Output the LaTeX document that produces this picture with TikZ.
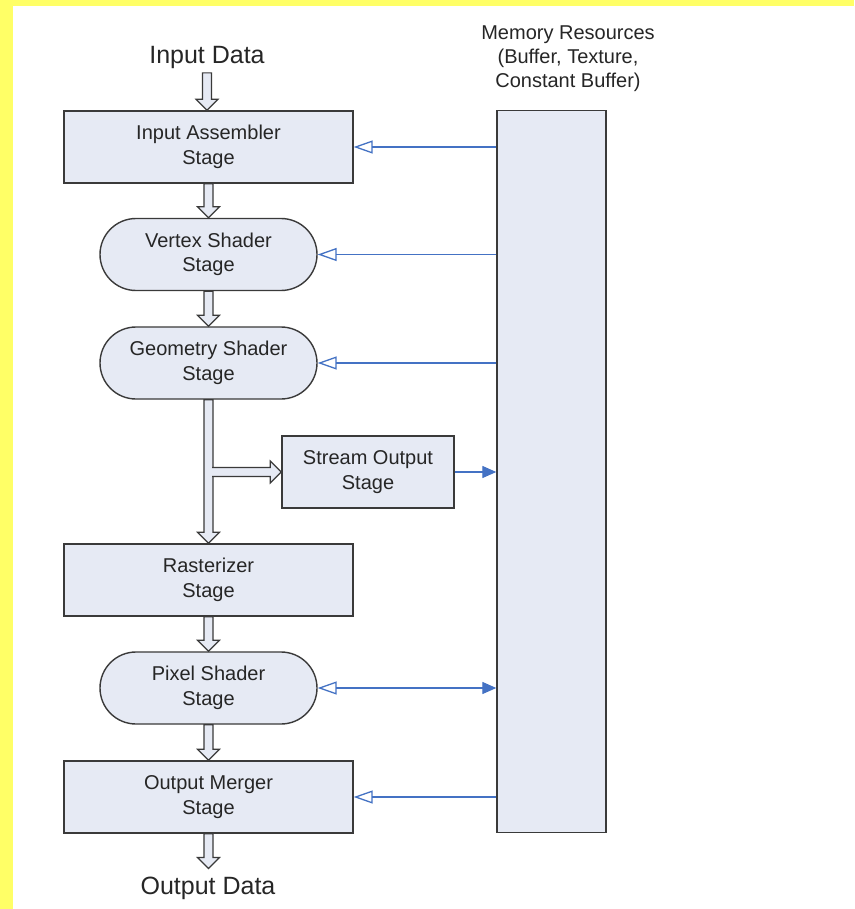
\documentclass[tikz,border=0pt]{standalone}
\usepackage{fontspec}
\setmainfont{Liberation Sans}
\usetikzlibrary{arrows.meta,calc}
\definecolor{stagefill}{HTML}{E6EAF4}
\definecolor{edgegray}{HTML}{3A3A3A}
\definecolor{linkblue}{HTML}{4472C4}
\definecolor{framey}{HTML}{FFFF66}
\definecolor{inkgray}{HTML}{262626}
\begin{document}
\begin{tikzpicture}[x=1pt,y=-1pt,
  stage/.style={draw=edgegray,fill=stagefill,line width=1.4pt,
    minimum width=289pt,minimum height=72pt,inner sep=0pt,align=center,
    font=\fontsize{20}{24.5}\selectfont,text=inkgray},
  shader/.style={stage,minimum width=217pt,rounded corners=36pt},
  label/.style={text=inkgray,align=center,inner xsep=0pt},
  fat/.style={draw=edgegray,fill=stagefill,line width=1.2pt,
    to path={let \p1=(\tikztostart),\p2=(\tikztotarget) in
      (\x1-4.5pt,\y1) -- (\x1-4.5pt,\y2+11pt) -- (\x1-11pt,\y2+11pt) -- (\x1,\y2)
      -- (\x1+11pt,\y2+11pt) -- (\x1+4.5pt,\y2+11pt) -- (\x1+4.5pt,\y1) -- cycle}},
  branch/.style={draw=edgegray,fill=stagefill,line width=1.2pt,
    to path={let \p1=(\tikztostart),\p2=(\tikztotarget) in
      (\x1+3.5pt,\y1+4.5pt) -- (\x2-11pt,\y1+4.5pt) -- (\x2-11pt,\y1+11pt) -- (\x2,\y1)
      -- (\x2-11pt,\y1-11pt) -- (\x2-11pt,\y1-4.5pt) -- (\x1+3.5pt,\y1-4.5pt)}},
  link/.style={draw=linkblue,line width=1.3pt},
  readtip/.style={-{Triangle[open,length=19pt,width=13pt,line width=1.3pt]}},
  writetip/.style={-{Triangle[length=14pt,width=12pt]}},
  bothtip/.style={{Triangle[open,length=19pt,width=13pt,line width=1.3pt]}-{Triangle[length=14pt,width=12pt]}}
]
% page background and frame
\fill[white] (0,0) rectangle (854,909);
\fill[framey] (0,0) rectangle (854,6);
\fill[framey] (0,0) rectangle (13,909);
\useasboundingbox (0,0) rectangle (854,909);

% pipeline stages
\node[stage]  (ia) at (208.5,147) {Input Assembler\\Stage};
\node[shader] (vs) at (208.5,254.5) {Vertex Shader\\Stage};
\node[shader] (gs) at (208.5,363) {Geometry Shader\\Stage};
\node[stage,minimum width=172pt] (so) at (368,472) {Stream Output\\Stage};
\node[stage]  (rs) at (208.5,580) {Rasterizer\\Stage};
\node[shader] (ps) at (208.5,688) {Pixel Shader\\Stage};
\node[stage]  (om) at (208.5,797) {Output Merger\\Stage};

% memory resources column
\node[stage,minimum width=109pt,minimum height=722pt] (mem) at (551.5,471.5) {};
\node[label,font=\fontsize{20}{24}\selectfont] (memlbl) at (568,59) {Memory Resources\\(Buffer, Texture,\\Constant Buffer)};

% input and output labels
\node[label,font=\fontsize{25}{30}\selectfont,inner ysep=4pt] (indata) at (207,57.5) {Input Data};
\node[label,font=\fontsize{25}{30}\selectfont,inner ysep=8pt] (outdata) at (208,888) {Output Data};

% data flow through the pipeline
\draw[fat] (indata.south) to (ia.north);
\draw[fat] (ia.south) to (vs.north);
\draw[fat] (vs.south) to (gs.north);
\draw[fat] (gs.south) to (rs.north);
\coordinate (split) at (gs.south |- so.west);
\draw[branch] (split) to (so.west);
\draw[fat] (rs.south) to (ps.north);
\draw[fat] (ps.south) to (om.north);
\draw[fat] (om.south) to (outdata.north);

% memory access
\draw[link,readtip] (mem.west |- ia.east) -- (ia.east);
\draw[link,readtip] (mem.west |- vs.east) -- (vs.east);
\draw[link,readtip] (mem.west |- gs.east) -- (gs.east);
\draw[link,writetip] (so.east) -- (mem.west |- so.east);
\draw[link,bothtip] (ps.east) -- (mem.west |- ps.east);
\draw[link,readtip] (mem.west |- om.east) -- (om.east);
\end{tikzpicture}
\end{document}
